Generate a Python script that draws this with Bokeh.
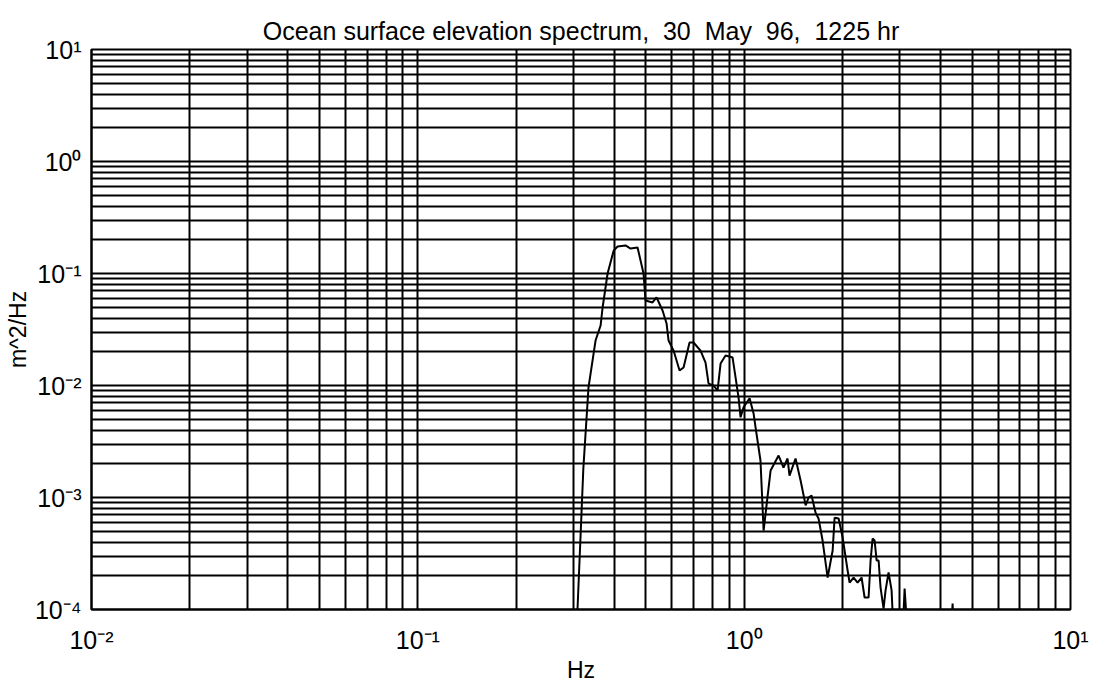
from bokeh.plotting import figure
from bokeh.models import FixedTicker, CustomJSTickFormatter, Range1d
from bokeh.embed import file_html
from bokeh.resources import INLINE

# Frequency (Hz) and spectral density (m^2/Hz)
freq_hz = [0.302, 0.3086, 0.3216, 0.3334, 0.3504, 0.3631, 0.3683, 0.3815, 0.3981, 0.4093,
           0.4330, 0.4486, 0.4713, 0.4916, 0.4986, 0.5239, 0.5390, 0.5622, 0.5784, 0.5866,
           0.6077, 0.6339, 0.6521, 0.6802, 0.6996, 0.7350, 0.7614, 0.7778, 0.8056, 0.8289,
           0.8467, 0.8770, 0.9213, 0.9410, 0.9612, 0.9750, 0.9958, 1.039, 1.069, 1.084,
           1.122, 1.147, 1.205, 1.275, 1.320, 1.358, 1.377, 1.437, 1.489, 1.543,
           1.576, 1.609, 1.655, 1.690, 1.739, 1.802, 1.867, 1.893, 1.947, 2.003,
           2.075, 2.104, 2.164, 2.226, 2.290, 2.339, 2.406, 2.440, 2.475, 2.510,
           2.546, 2.582, 2.618, 2.674, 2.712, 2.770, 2.830, 2.870, 3.059, 3.102,
           3.168, 4.292, 4.353, 4.384, 10.0]
psd = [5e-5, 1.02e-4, 1.85e-3, 9.6e-3, 0.0252, 0.0343, 0.0497, 0.100, 0.160, 0.174,
       0.178, 0.167, 0.171, 0.100, 0.0574, 0.0551, 0.0611, 0.0467, 0.0358, 0.0252,
       0.0205, 0.0136, 0.0145, 0.0242, 0.0242, 0.0205, 0.0160, 0.0104, 0.0100, 0.0090,
       0.0157, 0.0185, 0.0178, 0.0118, 0.0078, 0.0052, 0.0064, 0.0077, 0.0056, 0.0042,
       0.00214, 5.07e-4, 1.74e-3, 2.37e-3, 1.85e-3, 2.23e-3, 1.57e-3, 2.23e-3, 1.42e-3, 8.5e-4,
       1.0e-3, 1.04e-3, 7.3e-4, 6.5e-4, 4.13e-4, 1.93e-4, 3.36e-4, 6.6e-4, 6.5e-4, 4.4e-4,
       2.23e-4, 1.74e-4, 1.93e-4, 1.74e-4, 1.93e-4, 1.28e-4, 1.28e-4, 2.74e-4, 4.3e-4, 4.13e-4,
       2.74e-4, 2.74e-4, 1.57e-4, 1.02e-4, 1.48e-4, 2.14e-4, 1.48e-4, 6e-5, 6e-5, 1.54e-4,
       6e-5, 6e-5, 1.13e-4, 6e-5, 3e-5]

x_decades = [-2, -1, 0, 1]
y_decades = [-4, -3, -2, -1, 0, 1]
title_text = "Ocean surface elevation spectrum,\u00a0 30\u00a0 May\u00a0 96,\u00a0 1225 hr"

FONT = "Liberation Sans"

p = figure(width=1094, height=687, x_axis_type="log", y_axis_type="log",
           x_range=Range1d(10 ** x_decades[0], 10 ** x_decades[-1]),
           y_range=Range1d(10 ** y_decades[0], 10 ** y_decades[-1]),
           output_backend="svg", toolbar_location=None,
           min_border_left=91, min_border_right=24, min_border_top=49, min_border_bottom=78)

p.title.text = title_text
p.title.align = "center"
p.title.text_font = FONT
p.title.text_font_size = "25px"
p.title.text_font_style = "normal"
p.title.text_color = "black"
p.title.offset = 0
p.title.standoff = 10

# Full decade grid (1..9 x 10^k)
xg = [m * 10.0 ** e for e in x_decades[:-1] for m in range(1, 10)] + [10.0 ** x_decades[-1]]
yg = [m * 10.0 ** e for e in y_decades[:-1] for m in range(1, 10)] + [10.0 ** y_decades[-1]]
p.xgrid.ticker = FixedTicker(ticks=xg)
p.ygrid.ticker = FixedTicker(ticks=yg)
for g in (p.xgrid, p.ygrid):
    g.grid_line_color = "black"
    g.grid_line_width = 2
    g.grid_line_alpha = 1.0

fmt_code = """
const sup = {'-':'\u207b','0':'\u2070','1':'\u00b9','2':'\u00b2','3':'\u00b3','4':'\u2074',
             '5':'\u2075','6':'\u2076','7':'\u2077','8':'\u2078','9':'\u2079'};
const e = Math.round(Math.log10(tick));
return '10' + String(e).split('').map(c => sup[c]).join('');
"""
p.xaxis.ticker = FixedTicker(ticks=[10.0 ** e for e in x_decades])
p.yaxis.ticker = FixedTicker(ticks=[10.0 ** e for e in y_decades])
for ax in (p.xaxis, p.yaxis):
    ax.formatter = CustomJSTickFormatter(code=fmt_code)
    ax.major_tick_line_color = None
    ax.minor_tick_line_color = None
    ax.axis_line_color = "black"
    ax.axis_line_width = 2
    ax.major_label_text_font = FONT
    ax.major_label_text_font_size = "25px"
    ax.major_label_text_color = "black"
    ax.axis_label_text_font = FONT
    ax.axis_label_text_font_size = "23px"
    ax.axis_label_text_font_style = "normal"
    ax.axis_label_text_color = "black"

p.xaxis.axis_label = "Hz"
p.yaxis.axis_label = "m^2/Hz"
p.xaxis.major_label_standoff = 10
p.yaxis.major_label_standoff = 4
p.xaxis.axis_label_standoff = 0
p.yaxis.axis_label_standoff = 1

p.outline_line_color = "black"
p.outline_line_width = 2
p.background_fill_color = "white"
p.border_fill_color = "white"

p.line(freq_hz, psd, line_color="black", line_width=2)

open("out.html", "w").write(file_html(p, INLINE))
